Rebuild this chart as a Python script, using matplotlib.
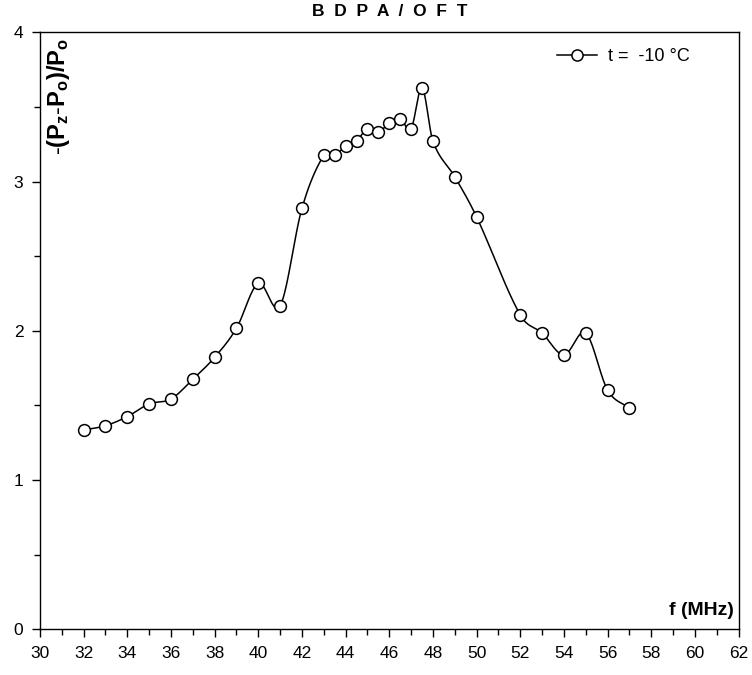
import numpy as np
import matplotlib
matplotlib.use("Agg")
import matplotlib.pyplot as plt

plt.rcParams['font.family'] = ['Liberation Sans', 'DejaVu Sans']
plt.rcParams['mathtext.fontset'] = 'custom'
plt.rcParams['mathtext.rm'] = 'Liberation Sans'
plt.rcParams['mathtext.bf'] = 'Liberation Sans:bold'

# data
freq = [32, 33, 34, 35, 36, 37, 38, 39, 40, 41, 42, 43, 43.5, 44, 44.5, 45, 45.5,
        46, 46.5, 47, 47.5, 48, 49, 50, 52, 53, 54, 55, 56, 57]
signal = [1.335, 1.364, 1.425, 1.51, 1.543, 1.675, 1.822, 2.017, 2.318, 2.168,
          2.821, 3.176, 3.176, 3.238, 3.272, 3.354, 3.332, 3.39, 3.419, 3.354,
          3.629, 3.27, 3.033, 2.763, 2.106, 1.985, 1.838, 1.985, 1.603, 1.481]
xticks = list(range(30, 63, 2))
yticks = [0, 1, 2, 3, 4]


def smooth(x, y, n=20):
    # cubic hermite with finite difference tangents, only for drawing the line
    x = np.asarray(x, float)
    y = np.asarray(y, float)
    m = np.zeros_like(y)
    d = np.diff(y) / np.diff(x)
    m[0], m[-1] = d[0], d[-1]
    m[1:-1] = (y[2:] - y[:-2]) / (x[2:] - x[:-2])
    xs, ys = [], []
    for i in range(len(x) - 1):
        h = x[i + 1] - x[i]
        t = np.linspace(0, 1, n, endpoint=False)
        h00 = 2 * t**3 - 3 * t**2 + 1
        h10 = t**3 - 2 * t**2 + t
        h01 = -2 * t**3 + 3 * t**2
        h11 = t**3 - t**2
        xs.append(x[i] + t * h)
        ys.append(h00 * y[i] + h10 * h * m[i] + h01 * y[i + 1] + h11 * h * m[i + 1])
    xs.append([x[-1]])
    ys.append([y[-1]])
    return np.concatenate(xs), np.concatenate(ys)


fig = plt.figure(figsize=(7.52, 6.75), dpi=100)
ax = fig.add_axes([0.0532, 0.0677, 0.9289, 0.8845])

sx, sy = smooth(freq, signal)
ax.plot(sx, sy, color='black', lw=1.1, zorder=2)
ax.plot(freq, signal, ls='none', marker='o', ms=8.5, mfc='white', mec='black',
        mew=1.1, zorder=3)

ax.set_xlim(30, 62)
ax.set_ylim(0, 4)
ax.set_xticks(xticks)
ax.set_xticks(range(31, 62, 2), minor=True)
ax.set_yticks(yticks)
ax.set_yticks([0.5, 1.5, 2.5, 3.5], minor=True)
ax.tick_params(axis='both', which='major', direction='out', length=6, width=1,
               labelsize=12.5, pad=6)
ax.tick_params(axis='both', which='minor', direction='out', length=4, width=1)
ax.tick_params(top=False, right=False)
for s in ax.spines.values():
    s.set_linewidth(1)

ax.set_title('B  D  P  A  /  O  F  T', fontsize=12.5, fontweight='bold', pad=12)
ax.text(0.007, 0.99, r'$\mathbf{\text{-}(P_z\text{-}P_o)/P_o}$', transform=ax.transAxes,
        rotation=90, ha='left', va='top', fontsize=17)
ax.text(0.993, 0.018, 'f (MHz)', transform=ax.transAxes, ha='right', va='bottom',
        fontsize=14, fontweight='bold')

# legend
ax.plot([], [], color='black', lw=1.1, marker='o', ms=8, mfc='white',
        mec='black', mew=1.1, label='t =  -10 °C')
ax.legend(loc='upper right', bbox_to_anchor=(0.94, 0.985), frameon=False,
          fontsize=13, handlelength=2.2, handletextpad=0.6, borderaxespad=0)

fig.savefig('out.png', dpi=100)
